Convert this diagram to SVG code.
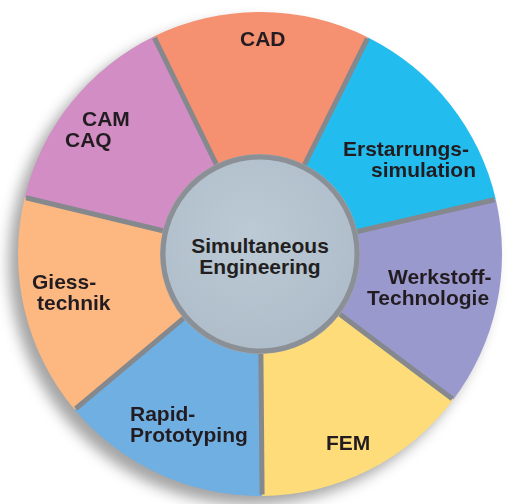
<svg xmlns="http://www.w3.org/2000/svg" width="515" height="504" viewBox="0 0 515 504">
  <defs>
    <filter id="shadow" x="-20%" y="-20%" width="140%" height="140%">
      <feGaussianBlur stdDeviation="7"/>
    </filter>
    <filter id="soft" x="-5%" y="-5%" width="110%" height="110%">
      <feGaussianBlur stdDeviation="0.6"/>
    </filter>
    <radialGradient id="hubFill" cx="0.45" cy="0.4" r="0.6">
      <stop offset="0" stop-color="#bccad6"/>
      <stop offset="1" stop-color="#afbdca"/>
    </radialGradient>
  </defs>
  <style>
    .lbl { font-family: "Liberation Sans", Arial, Helvetica, sans-serif; font-weight: bold; font-size: 21px; fill: #231f20; }
    .mid { text-anchor: middle; }
    .gap { stroke: #85888d; stroke-width: 5; stroke-linecap: butt; fill: none; }
  </style>
  <rect width="515" height="504" fill="#ffffff"/>
  <circle cx="251" cy="263" r="242" fill="#5a5a5a" opacity="0.55" filter="url(#shadow)"/>
  <g filter="url(#soft)">
    <g id="cad">
      <path d="M216.2,164.1 L153.9,36.5 A242,242 0 0 1 368.0,37.4 L304.6,164.5 A100,100 0 0 0 216.2,164.1 Z" fill="#f5906f"/>
      <text class="lbl" x="240" y="46">CAD</text>
    </g>
    <g id="erstarrungssimulation">
      <path d="M304.6,164.5 L368.0,37.4 A242,242 0 0 1 495.8,199.5 L357.4,231.5 A100,100 0 0 0 304.6,164.5 Z" fill="#22bdee"/>
      <text class="lbl" x="343" y="156">Erstarrungs-</text>
      <text class="lbl" x="371" y="177">simulation</text>
    </g>
    <g id="werkstoff">
      <path d="M357.4,231.5 L495.8,199.5 A242,242 0 0 1 453.3,399.6 L339.9,314.2 A100,100 0 0 0 357.4,231.5 Z" fill="#9a99cd"/>
      <text class="lbl" x="388" y="284">Werkstoff-</text>
      <text class="lbl" x="367" y="305">Technologie</text>
    </g>
    <g id="fem">
      <path d="M339.9,314.2 L453.3,399.6 A242,242 0 0 1 262.1,496.0 L260.9,354.0 A100,100 0 0 0 339.9,314.2 Z" fill="#fddc79"/>
      <text class="lbl" x="326" y="450">FEM</text>
    </g>
    <g id="rapid-prototyping">
      <path d="M260.9,354.0 L262.1,496.0 A242,242 0 0 1 74.6,409.6 L183.4,318.3 A100,100 0 0 0 260.9,354.0 Z" fill="#70afe1"/>
      <text class="lbl" x="130" y="421">Rapid-</text>
      <text class="lbl" x="130" y="442">Prototyping</text>
    </g>
    <g id="giesstechnik">
      <path d="M183.4,318.3 L74.6,409.6 A242,242 0 0 1 24.7,197.5 L162.8,230.7 A100,100 0 0 0 183.4,318.3 Z" fill="#fcb880"/>
      <text class="lbl" x="32" y="289">Giess-</text>
      <text class="lbl" x="37" y="310">technik</text>
    </g>
    <g id="cam-caq">
      <path d="M162.8,230.7 L24.7,197.5 A242,242 0 0 1 153.9,36.5 L216.2,164.1 A100,100 0 0 0 162.8,230.7 Z" fill="#d18dc4"/>
      <text class="lbl" x="82" y="126">CAM</text>
      <text class="lbl" x="65" y="147">CAQ</text>
    </g>
  </g>
  <g id="dividers">
    <line class="gap" x1="216.2" y1="164.1" x2="154.5" y2="37.8"/>
    <line class="gap" x1="304.6" y1="164.5" x2="367.4" y2="38.7"/>
    <line class="gap" x1="357.4" y1="231.5" x2="494.4" y2="199.8"/>
    <line class="gap" x1="339.9" y1="314.2" x2="452.2" y2="398.8"/>
    <line class="gap" x1="260.9" y1="354.0" x2="262.1" y2="494.6"/>
    <line class="gap" x1="183.4" y1="318.3" x2="75.7" y2="408.7"/>
    <line class="gap" x1="162.8" y1="230.7" x2="26.1" y2="197.8"/>
  </g>
  <g id="simultaneous-engineering">
    <circle cx="260" cy="254" r="97" fill="url(#hubFill)" stroke="#8b9096" stroke-width="5"/>
    <text class="lbl mid" x="260" y="253">Simultaneous</text>
    <text class="lbl mid" x="260" y="274">Engineering</text>
  </g>
</svg>
